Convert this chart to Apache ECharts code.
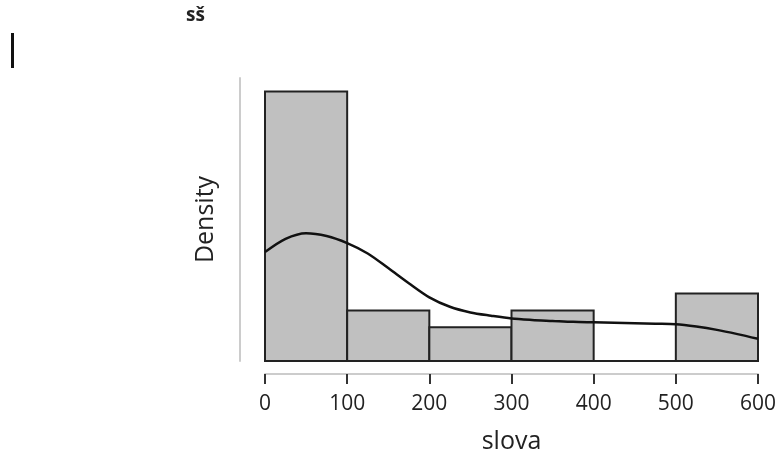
<!DOCTYPE html>
<html>
<head>
<meta charset="utf-8">
<script src="https://cdn.jsdelivr.net/npm/echarts@6/dist/echarts.min.js"></script>
<style>
  html, body { margin: 0; padding: 0; background: #fff; }
  #main { width: 780px; height: 459px; }
</style>
</head>
<body>
<div id="main"></div>
<script>
// histogram bins (slova) and counts
var binEdges = [0, 100, 200, 300, 400, 500, 600];
var binCounts = [16, 3, 2, 3, 0, 4];
// kernel density curve (every 25 units)
var kdeX = [0, 25, 50, 75, 100, 125, 150, 175, 200, 225, 250, 275, 300, 325, 350, 375, 400,
            425, 450, 475, 500, 525, 550, 575, 600];
var kdeY = [0.00231, 0.00259, 0.00271, 0.00265, 0.0025, 0.00228, 0.00197, 0.00165, 0.00135, 0.00115,
            0.00103, 0.00096, 0.0009, 0.00087, 0.00085, 0.00083, 0.00082, 0.00081, 0.0008, 0.00079,
            0.00078, 0.00073, 0.00066, 0.00057, 0.00047];

var total = binCounts.reduce(function (a, b) { return a + b; }, 0);
var bars = [];
for (let i = 0; i < binCounts.length; i++) {
  let w = binEdges[i + 1] - binEdges[i];
  bars.push([binEdges[i], binEdges[i + 1], binCounts[i] / (total * w)]);
}
var curve = kdeX.map(function (x, i) { return [x, kdeY[i]]; });

var myChart = echarts.init(document.getElementById("main"));
myChart.setOption({
  animation: false,
  textStyle: { fontFamily: "Open Sans" },
  // grid 0: the plot itself; grid 1: only carries the detached x axis below it
  grid: [
    { left: 265, right: 22, top: 78, bottom: 98 },
    { left: 265, right: 22, top: 78, bottom: 84 }
  ],
  graphic: [
    { type: "text", left: 186, top: 6, style: { text: "sš", fontSize: 19, fontWeight: "bold", fill: "#222", fontFamily: "Open Sans" } },
    { type: "rect", left: 11, top: 33, shape: { width: 3, height: 35 }, style: { fill: "#111" } }
  ],
  xAxis: [
    {
      gridIndex: 0,
      type: "value",
      min: 0,
      max: 600,
      show: false
    },
    {
      gridIndex: 1,
      type: "value",
      min: 0,
      max: 600,
      interval: 100,
      name: "slova",
      nameLocation: "middle",
      nameGap: 55,
      nameTextStyle: { fontSize: 25, color: "#222" },
      axisLine: { onZero: false, lineStyle: { color: "#ccc", width: 2 } },
      axisTick: { length: 10, lineStyle: { color: "#333", width: 2 } },
      axisLabel: { fontSize: 21, color: "#222", margin: 20 },
      splitLine: { show: false }
    }
  ],
  yAxis: [
    {
      gridIndex: 0,
      type: "value",
      min: 0,
      max: 0.006,
      offset: 25,
      name: "Density",
      nameLocation: "middle",
      nameGap: 22,
      nameTextStyle: { fontSize: 25, color: "#222" },
      axisLine: { show: true, onZero: false, lineStyle: { color: "#ccc", width: 2 } },
      axisTick: { show: false },
      axisLabel: { show: false },
      splitLine: { show: false }
    },
    {
      gridIndex: 1,
      type: "value",
      min: 0,
      max: 1,
      show: false
    }
  ],
  series: [
    {
      type: "custom",
      xAxisIndex: 0,
      yAxisIndex: 0,
      data: bars,
      encode: { x: [0, 1], y: 2 },
      renderItem: function (params, api) {
        let p0 = api.coord([api.value(0), api.value(2)]);
        let p1 = api.coord([api.value(1), 0]);
        return {
          type: "rect",
          shape: { x: p0[0], y: p0[1], width: p1[0] - p0[0], height: p1[1] - p0[1] },
          style: { fill: "#c0c0c0", stroke: "#222", lineWidth: 2 }
        };
      }
    },
    {
      type: "line",
      xAxisIndex: 0,
      yAxisIndex: 0,
      data: curve,
      smooth: 0.3,
      showSymbol: false,
      lineStyle: { color: "#111", width: 2.5 },
      z: 5
    }
  ]
});
</script>
</body>
</html>
